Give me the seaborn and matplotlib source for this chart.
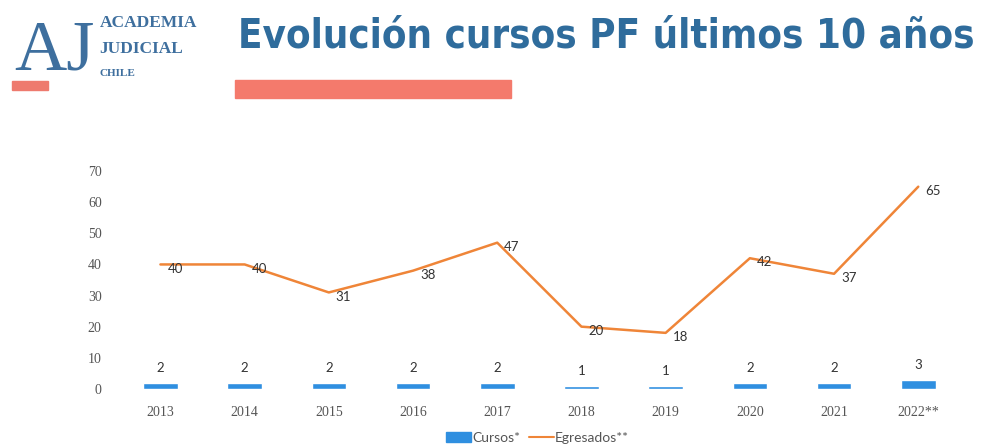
import matplotlib
matplotlib.use("Agg")
import matplotlib.pyplot as plt
from matplotlib.patches import Rectangle, Patch
from matplotlib.lines import Line2D
import seaborn as sns
import pandas as pd

# data
years = ["2013", "2014", "2015", "2016", "2017", "2018", "2019", "2020", "2021", "2022**"]
cursos = [2, 2, 2, 2, 2, 1, 1, 2, 2, 3]
egresados = [40, 40, 31, 38, 47, 20, 18, 42, 37, 65]

df = pd.DataFrame({"year": years, "cursos": cursos, "egresados": egresados})

bar_col = "#2F8FE0"
line_col = "#EF8538"
title_col = "#2F6C9C"

sns.set_theme(style="white")
fig = plt.figure(figsize=(9.86, 4.48), dpi=100)
ax = fig.add_axes([0.12, 0.132, 0.854, 0.486])

sns.barplot(data=df, x="year", y="cursos", color=bar_col, width=0.41,
            saturation=1, ax=ax)
sns.pointplot(data=df, x="year", y="egresados", color=line_col,
              marker="", linewidth=1.8, ax=ax)

ax.set_ylim(0, 70)
ax.set_xlim(-0.5, 9.5)
ax.set_yticks(range(0, 71, 10))
ax.set_xlabel("")
ax.set_ylabel("")
sns.despine(ax=ax, left=True, bottom=True)
ax.tick_params(length=0, pad=12, labelsize=10, colors="#555555")
ax.tick_params(axis="x", pad=12)
for lab in ax.get_xticklabels() + ax.get_yticklabels():
    lab.set_family("Liberation Serif")

# data labels
for i, v in enumerate(cursos):
    ax.annotate(str(v), (i, v), xytext=(0, 6), textcoords="offset points",
                ha="center", va="bottom", fontsize=9.5, color="#333333",
                family="Lato")
for i, v in enumerate(egresados):
    ax.annotate(str(v), (i, v), xytext=(5, -3), textcoords="offset points",
                ha="left", va="center", fontsize=9.5, color="#333333",
                family="Lato")

# legend
handles = [Patch(color=bar_col), Line2D([0], [0], color=line_col, lw=1.5)]
fig.legend(handles, ["Cursos*", "Egresados**"], loc="center",
           bbox_to_anchor=(0.545, 0.022), ncol=2, frameon=False,
           handlelength=1.8, handletextpad=0.1, columnspacing=0.6,
           prop={"family": "Lato", "size": 10}, labelcolor="#555555")

# title + accent bar
fig.text(0.615, 0.918, "Evolución cursos PF últimos 10 años", ha="center",
         va="center", fontsize=28.8, fontweight="bold", color=title_col,
         family="DejaVu Sans", stretch="condensed")
fig.patches.append(Rectangle((235 / 986, 1 - 98 / 448), 276 / 986, 18 / 448,
                             transform=fig.transFigure, color="#F47A6C",
                             figure=fig))

# logo
fig.patches.append(Rectangle((12 / 986, 1 - 90 / 448), 36 / 986, 9 / 448,
                             transform=fig.transFigure, color="#EE7A6E",
                             figure=fig))
fig.text(0.014, 1 - 70 / 448, "AJ", ha="left", va="baseline", fontsize=52,
         color="#3E6F9E", family="Liberation Serif")
fig.text(0.101, 0.949, "ACADEMIA", ha="left", va="center", fontsize=12.5,
         fontweight="bold", color="#3E6F9E", family="Liberation Serif")
fig.text(0.101, 0.891, "JUDICIAL", ha="left", va="center", fontsize=12.5,
         fontweight="bold", color="#3E6F9E", family="Liberation Serif")
fig.text(0.101, 0.837, "CHILE", ha="left", va="center", fontsize=8,
         fontweight="bold", color="#3E6F9E", family="Liberation Serif")

fig.savefig("out.png", dpi=100)
